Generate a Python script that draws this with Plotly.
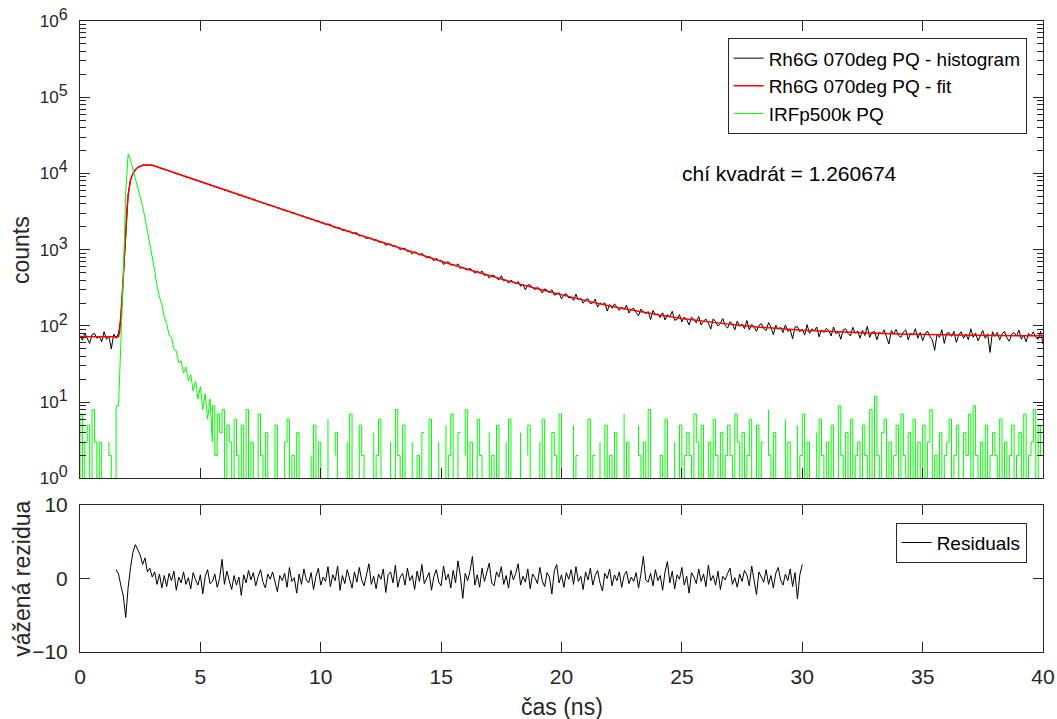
import numpy as np
import plotly.graph_objects as go

# Rh6G 070deg decay (0.1 ns bins)
hist_t0 = 0.0
hist_step = 0.1
hist_counts = [
    75, 65, 81, 70, 59, 77, 80, 69, 73, 62, 84, 67, 74, 50, 78, 69, 80,
    128, 462, 1980, 5230, 8260, 10080, 11150, 12090, 12460, 12850, 12870, 12960, 12790, 12880,
    12610, 12150, 11980, 11570, 11420, 10990, 10850, 10460, 10330,
    9950, 9810, 9470, 9350, 9020, 8900, 8570, 8460, 8150, 8070,
    7770, 7690, 7390, 7300, 7020, 6960, 6700, 6620, 6350, 6300,
    6060, 6010, 5760, 5720, 5480, 5450, 5210, 5180, 4960, 4940,
    4720, 4700, 4490, 4480, 4270, 4260, 4070, 4060, 3870, 3860,
    3690, 3690, 3510, 3510, 3330, 3350, 3180, 3190, 3020, 3040,
    2880, 2900, 2740, 2760, 2610, 2630, 2480, 2510, 2360, 2390, 2250,
    2255, 2131, 2168, 2148, 2016, 1942, 1944, 1941, 1775, 1825,
    1740, 1753, 1646, 1640, 1669, 1512, 1543, 1479, 1399, 1456,
    1396, 1330, 1368, 1261, 1260, 1256, 1136, 1188, 1184, 1104,
    1125, 1060, 1006, 1040, 1043, 950, 959, 877, 940, 904,
    851, 896, 827, 782, 816, 783, 716, 774, 714, 727,
    641, 680, 696, 625, 644, 615, 653, 567, 594, 551,
    544, 570, 537, 491, 528, 497, 525, 458, 477, 424,
    462, 460, 424, 405, 456, 392, 402, 364, 398, 373,
    358, 385, 332, 353, 297, 344, 347, 315, 301, 323,
    304, 271, 307, 295, 271, 299, 254, 261, 273, 226,
    256, 265, 233, 238, 217, 261, 220, 232, 199, 222,
    228, 196, 201, 225, 177, 201, 191, 201, 157, 191,
    171, 195, 176, 160, 177, 164, 188, 148, 166, 170,
    150, 136, 167, 153, 144, 155, 122, 160, 140, 144,
    129, 149, 120, 141, 132, 156, 119, 122, 141, 113,
    131, 121, 103, 131, 122, 110, 133, 103, 116, 123,
    109, 91, 124, 114, 100, 108, 125, 101, 94, 114,
    106, 89, 116, 99, 106, 92, 118, 89, 105, 97,
    85, 102, 107, 92, 87, 111, 96, 77, 102, 91,
    96, 82, 103, 85, 90, 68, 97, 98, 84, 91,
    76, 104, 80, 92, 86, 97, 72, 89, 82, 93,
    87, 74, 97, 79, 84, 67, 89, 92, 80, 74,
    96, 80, 86, 69, 88, 75, 99, 71, 82, 85,
    66, 83, 79, 89, 73, 58, 87, 79, 90, 75,
    71, 83, 89, 66, 80, 76, 92, 69, 82, 64,
    78, 86, 73, 66, 48, 78, 71, 89, 59, 80,
    82, 73, 85, 61, 76, 84, 69, 78, 66, 92,
    71, 81, 64, 77, 87, 69, 79, 45, 84, 73,
    82, 66, 78, 85, 70, 63, 78, 82, 74, 88,
    67, 76, 62, 80, 74, 84, 71, 67, 85, 58,
]

# fitted curve
fit_time = [0, 1.6, 1.65, 1.7, 1.75, 1.8, 1.85, 1.9, 1.95, 2.0, 2.1, 2.2, 2.3, 2.4, 2.5,
            2.6, 2.7, 2.8, 2.9, 3.0, 3.5, 4, 4.5, 5, 6, 7, 8, 9, 10, 11, 12, 13, 14, 15,
            16, 17, 18, 19, 20, 21, 22, 23, 24, 25, 26, 27, 28, 29, 30, 31, 32, 33, 34,
            35, 36, 37, 38, 39, 40]
fit_counts = [72, 72, 85, 130, 240, 450, 1000, 2000, 3400, 5200, 8300, 10000, 11200, 12000, 12500,
              12800, 12900, 12900, 12870, 12840, 11340, 10010, 8850, 7820, 6100, 4770, 3730, 2920,
              2290, 1800, 1418, 1121, 889, 708, 568, 458, 373, 307, 255, 215, 183, 159, 140, 125,
              114, 105, 98, 92.6, 88, 85, 82, 80, 78.5, 77, 76, 75.6, 75, 74.6, 74.2]

# instrument response (IRFp500k), 0.1 ns bins, zeros are empty bins
irf_counts = [
    1, 7, 1, 3, 5, 1, 8, 3, 1, 3, 1, 0, 3, 2, 1, 1, 9,
    60, 450, 5800,
    18000, 15000, 11500, 8500, 6500, 5100, 3700, 2600, 1800, 1250,
    850, 540, 340, 240, 192, 131, 108, 76, 71, 49,
    47, 33, 35, 24, 29, 19, 23, 14, 19, 11,
    16, 8, 13, 6, 11, 3, 9, 2, 7, 4,
    8, 1, 5, 3, 1, 6, 2, 1, 5, 1,
    8,
    1, 3, 1, 1, 7, 2, 1, 4, 1, 0,
    1, 5, 1, 0, 1, 3, 6, 1, 2, 1,
    4, 1, 1, 0, 0, 2, 1, 5, 1, 3,
    1, 0, 6, 1, 0, 2, 4, 1, 0, 0,
    3, 1, 7, 1, 0, 1, 5, 2, 1, 0,
    0, 4, 1, 2, 6, 1, 0, 0, 3, 1,
    1, 8, 2, 1, 5, 1, 0, 3, 1, 1,
    2, 1, 4, 0, 1, 6, 1, 0, 3, 1,
    0, 5, 1, 2, 7, 1, 1, 4, 0, 2,
    8, 1, 3, 1, 1, 6, 2, 1, 0, 4,
    1, 2, 1, 5, 1, 0, 3, 1, 6, 1,
    1, 0, 4, 1, 0, 2, 5, 1, 0, 0,
    3, 1, 6, 1, 0, 1, 4, 2, 1, 7,
    1, 0, 3, 0, 5, 1, 2, 0, 0, 1,
    1, 6, 1, 2, 0, 3, 1, 1, 5, 1,
    2, 1, 4, 1, 0, 7, 1, 3, 1, 0,
    0, 5, 2, 1, 3, 1, 8, 1, 0, 0,
    1, 2, 1, 6, 1, 0, 3, 1, 1, 5,
    1, 2, 4, 2, 1, 7, 3, 1, 5, 1,
    1, 3, 1, 6, 2, 1, 4, 1, 2, 5,
    2, 1, 7, 3, 1, 4, 1, 2, 6, 1,
    1, 5, 1, 3, 0, 8, 2, 1, 4, 1,
    0, 0, 6, 1, 3, 1, 0, 5, 1, 2,
    7, 1, 3, 1, 0, 4, 1, 6, 2, 1,
    3, 1, 5, 1, 1, 9, 2, 1, 4, 1,
    6, 1, 2, 3, 1, 5, 2, 1, 8, 1,
    12, 2, 1, 4, 6, 1, 3, 1, 2, 5,
    1, 7, 2, 1, 4, 1, 6, 1, 3, 1,
    5, 1, 3, 8, 1, 2, 1, 4, 1, 2,
    3, 6, 1, 2, 5, 1, 1, 4, 2, 7,
    1, 9, 2, 1, 3, 1, 5, 1, 2, 4,
    2, 1, 6, 1, 3, 1, 2, 5, 1, 2,
    4, 1, 7, 1, 2, 3, 8, 1, 5, 2,
]

# weighted residuals, from 1.5 ns to 30 ns
res_t0 = 1.5
residuals = [
    1.2, 0.6, -1.0, -2.4, -5.3, -1.2, 1.5, 3.6, 4.6, 3.8,
    3.2, 1.9, 2.8, 0.9, 1.4, 0.2, 0.9, -0.8, 0.6, -1.3,
    0.4, -1.1, 0.7, -0.3, 1.0, -1.6, 0.2, -0.6, 0.9, -0.8,
    0.1, -1.4, 0.8, -0.2, -0.9, 0.5, -2.1, 0.3, 1.2, -0.7,
    -0.4, 0.6, -1.2, 0.0, 2.6, -0.8, 1.0, -0.3, -1.5, 0.4,
    -0.9, 0.2, -2.3, 0.5, -0.6, 1.1, -0.2, 0.8, -1.0, 0.3,
    1.2, -0.5, -1.3, 0.6, -0.1, 0.9, -0.7, -1.8, 0.4, -0.3,
    0.7, -1.2, 1.5, -0.4, 0.1, -2.0, 0.6, -0.8, 1.3, -0.2,
    -0.6, 0.8, -1.5, 0.3, 1.4, -0.9, 0.2, -0.4, 1.6, -1.1,
    0.5, -0.3, 1.7, -1.6, 0.4, -0.7, 1.2, 0.0, -1.3, 0.9,
    -0.5, 1.5, -0.2, -1.0, 0.7, 2.0, -0.8, 0.3, -1.4, 0.6,
    -0.1, 1.3, -1.9, 0.5, 0.9, -0.6, 1.8, -1.2, 0.2, 0.7,
    -0.9, 1.4, -0.3, 0.4, -1.5, 1.0, -0.4, 1.9, -0.7, 0.1,
    0.8, -1.6, 0.3, 1.2, -0.5, -1.0, 1.7, -0.2, 0.6, -1.3,
    1.1, -0.6, 2.4, 0.3, -2.7, 0.7, -0.3, 1.0, 3.0, -0.9,
    0.5, -1.2, 1.4, -0.4, 0.8, 2.1, -0.6, -1.0, 0.9, 0.2,
    1.6, -0.8, 0.4, -1.3, 1.1, -0.2, 0.7, 2.0, -0.9, 0.3,
    -0.5, 1.3, -1.4, 0.6, 0.1, -0.7, 1.5, -0.3, -1.1, 0.8,
    0.2, -2.1, 1.0, 1.9, -0.6, 0.5, -1.2, 0.8, -0.1, 1.2,
    -0.8, 1.6, -0.4, 0.3, -1.5, 0.9, -0.2, 1.4, -0.9, 0.4,
    1.1, -0.6, -1.7, 0.7, 0.0, 1.3, -1.0, 0.5, -0.3, 0.9,
    -1.2, 0.4, 1.0, -0.7, 0.2, -0.4, 0.8, -1.3, 0.6, 3.0,
    -0.2, -0.5, 0.7, -1.0, 1.2, -0.3, 0.4, -1.6, 0.9, 2.3,
    -0.6, 1.0, -1.4, 0.5, -0.1, 1.5, -0.9, 0.3, -2.0, 0.8,
    0.2, -0.7, 1.3, -0.4, 0.6, -1.1, 1.8, -0.3, 0.4, -0.9,
    1.0, -1.5, 0.3, -0.2, 0.7, 1.4, -0.8, 0.1, -1.2, 0.6,
    -0.4, 1.1, 0.5, -1.0, 1.7, -0.6, -2.2, 0.9, 0.2, -0.5,
    1.2, -0.8, 0.4, -1.3, 0.7, 1.5, -0.2, -0.9, 0.6, -0.3,
    1.3, -1.1, 0.8, -2.8, 0.5, 1.9,
]

chi_text = "chí kvadrát = 1.260674"

hist_time = np.round(hist_t0 + hist_step * np.arange(len(hist_counts)), 2)
irf_time = np.round(hist_t0 + hist_step * np.arange(len(irf_counts)), 2)
res_time = np.round(res_t0 + hist_step * np.arange(len(residuals)), 2)
# empty bins are not drawn on a log axis
irf_plot = [c if c > 0 else None for c in irf_counts]
# smooth pulse part drawn as a plain line, the sparse noise as thin steps
i_a, i_b = 16, 55

FONT = "Liberation Sans, Arial, sans-serif"
AX = "#262626"
GREEN = "#00ff00"

fig = go.Figure()
fig.add_trace(go.Scatter(x=hist_time, y=hist_counts, mode="lines", name="Rh6G 070deg PQ - histogram",
                         line=dict(color="black", width=1), xaxis="x", yaxis="y", legendgroup="a"))
fig.add_trace(go.Scatter(x=fit_time, y=fit_counts, mode="lines", name="Rh6G 070deg PQ - fit",
                         line=dict(color="#ff0000", width=1.5), xaxis="x", yaxis="y", legendgroup="b"))
fig.add_trace(go.Scatter(x=irf_time[i_a:i_b + 1], y=irf_plot[i_a:i_b + 1], mode="lines",
                         name="IRFp500k PQ", line=dict(color=GREEN, width=1),
                         xaxis="x", yaxis="y", legendgroup="c"))
for s0, s1 in [(0, i_a + 1), (i_b, len(irf_plot))]:
    fig.add_trace(go.Scatter(x=irf_time[s0:s1], y=irf_plot[s0:s1], mode="lines",
                             line=dict(color=GREEN, width=1, shape="vh"), connectgaps=False,
                             xaxis="x", yaxis="y", legendgroup="c", showlegend=False))
fig.add_trace(go.Scatter(x=res_time, y=residuals, mode="lines", name="Residuals",
                         line=dict(color="black", width=1), xaxis="x2", yaxis="y2",
                         legend="legend2"))

minor_vals = [k * 10 ** p for p in range(0, 6) for k in range(2, 10)]
xticks = list(range(0, 41, 5))

common_x = dict(range=[0, 40], tickvals=xticks, ticks="inside", ticklen=10, tickcolor=AX,
                showline=True, linecolor=AX, linewidth=1, mirror="ticks", automargin=False,
                showgrid=False, zeroline=False, tickfont=dict(size=21, color=AX))

log_text = ["10<sup><span style='font-size:16px'>%d</span></sup>" % p for p in range(7)]

fig.update_layout(
    width=1057, height=719,
    paper_bgcolor="white", plot_bgcolor="white",
    margin=dict(l=80, r=14, t=21, b=67),
    font=dict(family=FONT, color="black"),
    xaxis=dict(common_x, domain=[0, 1], anchor="y", showticklabels=False),
    yaxis=dict(type="log", range=[0, 6], domain=[0.275, 1], anchor="x",
               tickmode="array", tickvals=[10 ** p for p in range(7)], ticktext=log_text,
               ticks="inside", ticklen=10, tickcolor=AX, ticklabelstandoff=8,
               minor=dict(tickmode="array", tickvals=minor_vals, ticks="inside",
                          ticklen=6, tickcolor=AX),
               showline=True, linecolor=AX, linewidth=1, mirror="ticks", automargin=False,
               showgrid=False, zeroline=False, tickfont=dict(size=17, color=AX)),
    xaxis2=dict(common_x, domain=[0, 1], anchor="y2", ticklabelstandoff=6),
    yaxis2=dict(range=[-10, 10], domain=[0, 0.233], anchor="x2", tickvals=[-10, 0, 10],
                ticks="inside", ticklen=10, tickcolor=AX, ticklabelstandoff=7,
                showline=True, linecolor=AX, linewidth=1, mirror="ticks", automargin=False,
                showgrid=False, zeroline=False, tickfont=dict(size=21, color=AX)),
    legend=dict(x=0.983, y=0.9726, xanchor="right", yanchor="top", bgcolor="white",
                bordercolor=AX, borderwidth=1, font=dict(size=19, color="black"),
                tracegroupgap=0, traceorder="grouped"),
    legend2=dict(x=0.983, y=0.205, xanchor="right", yanchor="top", bgcolor="white",
                 bordercolor=AX, borderwidth=1, font=dict(size=19, color="black")),
    annotations=[
        dict(text=chi_text, x=24.92, y=4.0, xref="x", yref="y", xanchor="left",
             yanchor="middle", showarrow=False, font=dict(size=21, color="black")),
        dict(text="counts", x=-0.062, y=(0.275 + 1) / 2, xref="paper", yref="paper",
             textangle=-90, showarrow=False, xanchor="center", yanchor="middle",
             font=dict(size=23, color=AX)),
        dict(text="vážená rezidua", x=-0.060, y=0.233 / 2, xref="paper", yref="paper",
             textangle=-90, showarrow=False, xanchor="center", yanchor="middle",
             font=dict(size=23, color=AX)),
        dict(text="čas (ns)", x=0.5, y=-0.087, xref="paper", yref="paper",
             showarrow=False, xanchor="center", yanchor="middle",
             font=dict(size=23, color=AX)),
    ],
)

# the page's default body margin would shift the figure off the window
fig.write_html("out.html", config={"displayModeBar": False},
               post_script="document.body.style.margin='0px';")
